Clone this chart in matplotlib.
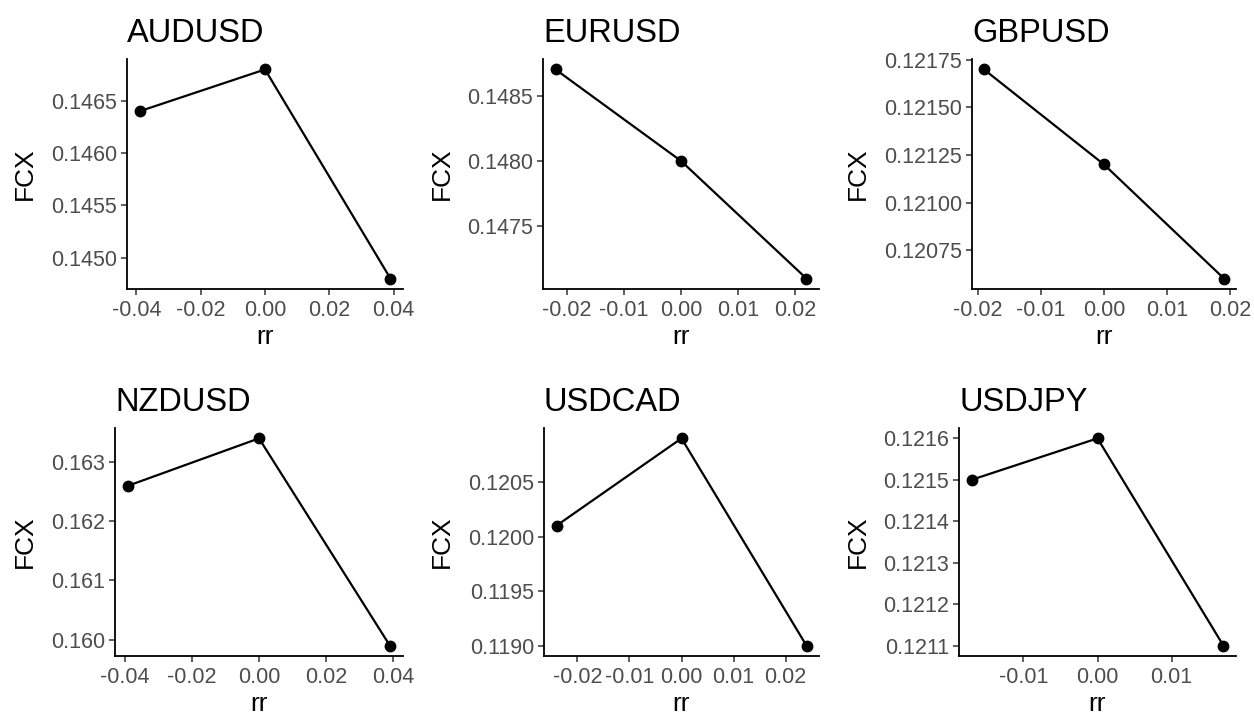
import matplotlib
matplotlib.use("Agg")
import matplotlib.pyplot as plt

plt.rcParams["font.family"] = ["Liberation Sans", "DejaVu Sans"]

pairs = ["AUDUSD", "EURUSD", "GBPUSD", "NZDUSD", "USDCAD", "USDJPY"]

rr = {
    "AUDUSD": [-0.039, 0.0, 0.039],
    "EURUSD": [-0.022, 0.0, 0.022],
    "GBPUSD": [-0.019, 0.0, 0.019],
    "NZDUSD": [-0.039, 0.0, 0.039],
    "USDCAD": [-0.024, 0.0, 0.024],
    "USDJPY": [-0.017, 0.0, 0.017],
}
fcx = {
    "AUDUSD": [0.1464, 0.1468, 0.1448],
    "EURUSD": [0.1487, 0.1480, 0.1471],
    "GBPUSD": [0.12170, 0.12120, 0.12060],
    "NZDUSD": [0.1626, 0.1634, 0.1599],
    "USDCAD": [0.1201, 0.1209, 0.1190],
    "USDJPY": [0.1215, 0.1216, 0.1211],
}

xticks = {
    "AUDUSD": ["-0.04", "-0.02", "0.00", "0.02", "0.04"],
    "EURUSD": ["-0.02", "-0.01", "0.00", "0.01", "0.02"],
    "GBPUSD": ["-0.02", "-0.01", "0.00", "0.01", "0.02"],
    "NZDUSD": ["-0.04", "-0.02", "0.00", "0.02", "0.04"],
    "USDCAD": ["-0.02", "-0.01", "0.00", "0.01", "0.02"],
    "USDJPY": ["-0.01", "0.00", "0.01"],
}
yticks = {
    "AUDUSD": ["0.1450", "0.1455", "0.1460", "0.1465"],
    "EURUSD": ["0.1475", "0.1480", "0.1485"],
    "GBPUSD": ["0.12075", "0.12100", "0.12125", "0.12150", "0.12175"],
    "NZDUSD": ["0.160", "0.161", "0.162", "0.163"],
    "USDCAD": ["0.1190", "0.1195", "0.1200", "0.1205"],
    "USDJPY": ["0.1211", "0.1212", "0.1213", "0.1214", "0.1215", "0.1216"],
}

W, H = 1254, 719
# panel boxes in pixels: left, right, top, bottom
boxes = [
    (127, 403, 59, 289), (543, 819, 59, 289), (972, 1236, 59, 289),
    (115, 403, 428, 656), (544, 819, 428, 656), (959, 1236, 428, 656),
]

fig = plt.figure(figsize=(W / 100, H / 100), dpi=100)

for name, (l, r, t, b) in zip(pairs, boxes):
    ax = fig.add_axes([l / W, 1 - b / H, (r - l) / W, (b - t) / H])
    x, y = rr[name], fcx[name]
    ax.plot(x, y, color="black", lw=1.6, zorder=2)
    ax.plot(x, y, "o", color="black", ms=7.5, zorder=3, clip_on=False)

    # ggplot-style 5% expansion
    dx = (max(x) - min(x)) * 0.05
    dy = (max(y) - min(y)) * 0.05
    ax.set_xlim(min(x) - dx, max(x) + dx)
    ax.set_ylim(min(y) - dy, max(y) + dy)

    ax.set_xticks([float(s) for s in xticks[name]])
    ax.set_xticklabels(xticks[name])
    ax.set_yticks([float(s) for s in yticks[name]])
    ax.set_yticklabels(yticks[name])

    for side in ["top", "right"]:
        ax.spines[side].set_visible(False)
    for side in ["left", "bottom"]:
        ax.spines[side].set_linewidth(1.3)
        ax.spines[side].set_color("black")
    ax.tick_params(length=4.5, width=1.1, color="#333333", labelcolor="#4D4D4D",
                   labelsize=15.5, pad=2.5)
    ax.tick_params(axis="x", pad=3.5)

    ax.set_xlabel("rr", fontsize=19, labelpad=3)
    ax.set_ylabel("FCX", fontsize=19, labelpad=10)
    ax.set_title(name, loc="left", fontsize=23.5, pad=12)

fig.savefig("out.png", dpi=100, facecolor="white")
